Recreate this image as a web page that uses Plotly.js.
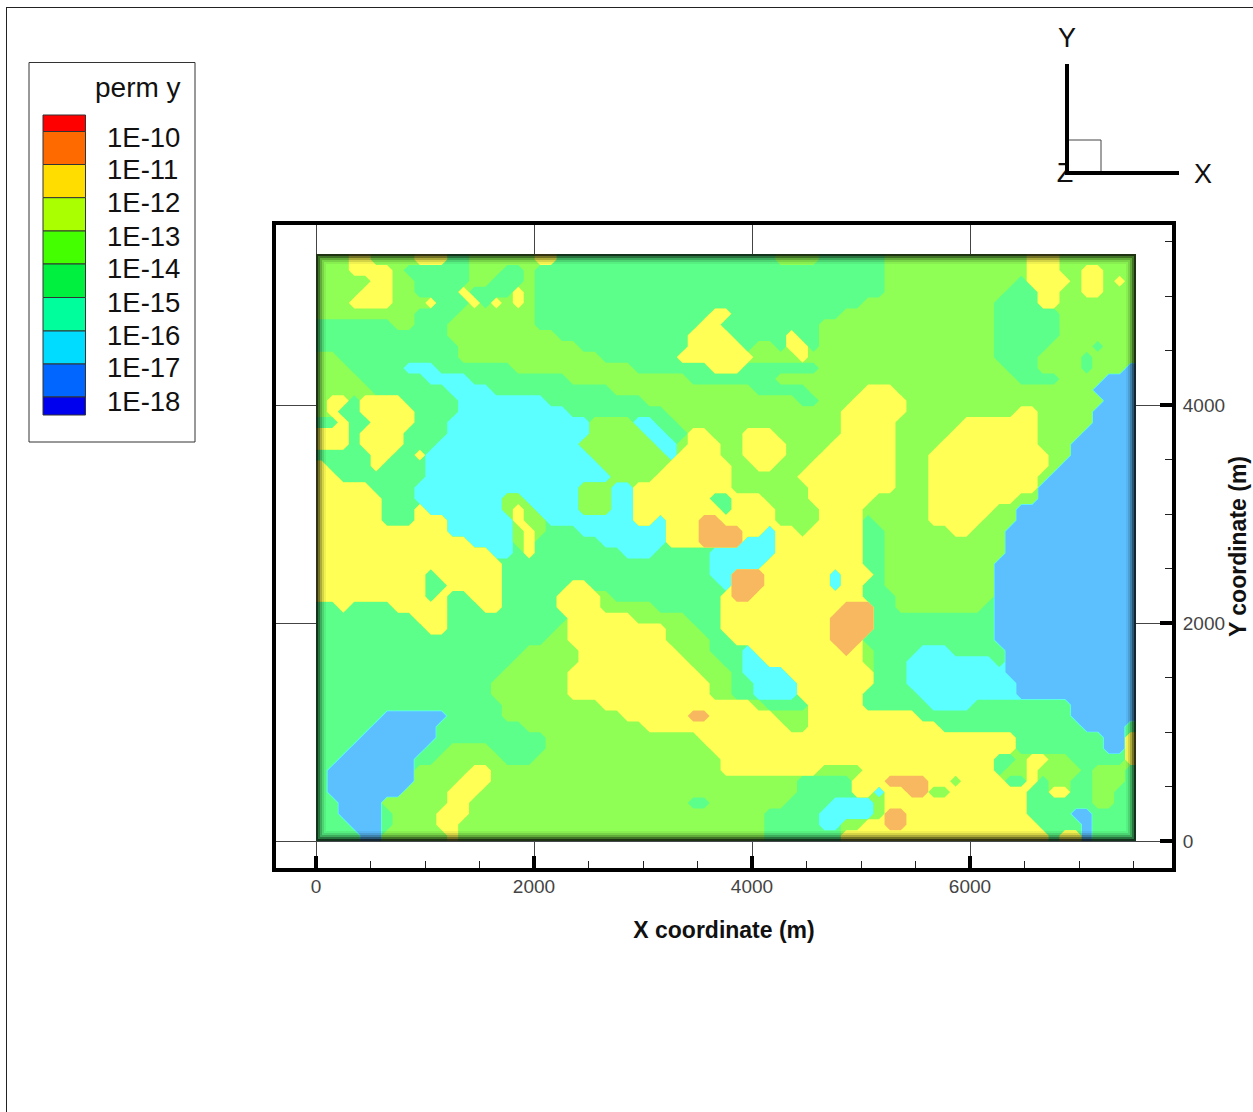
<!DOCTYPE html>
<html><head><meta charset="utf-8">
<script src="https://cdn.plot.ly/plotly-3.0.1.min.js"></script>
<style>html,body{margin:0;padding:0;background:#fff}#p{width:1253px;height:1112px}</style>
</head><body><div id="p"></div>
<script>
// Permeability class map, one string per 100 m row (north to south).
// Each token is a class letter and the column at which that run ends.
var permRows = [
"G3 Y5 G9 Y12 S14 G20 Y22 S42 G46 S52 G65 Y68 G75",
"G3 Y7 G8 S14 G17 S19 G20 S52 G65 Y68 G70 Y72 G75",
"G5 Y7 G9 S14 G16 S19 G20 S52 G64 S65 Y69 G70 Y72 G73 Y74 G75",
"G4 Y7 G9 S13 Y14 S18 Y19 G20 S52 G63 S66 Y68 G70 Y72 G75",
"G3 Y7 G10 Y11 S14 Y15 S16 Y17 G18 Y19 G20 S50 G62 S66 Y68 G75",
"G9 S13 G20 S36 Y38 S48 G62 S68 G75",
"S7 G9 S12 G20 S35 Y37 S46 G62 S68 G75",
"S12 G22 S34 Y38 S43 Y44 S46 G62 S68 G75",
"S13 G24 S34 Y39 S40 G42 S43 Y45 S46 G62 S67 G71 S72 G75",
"G2 S13 G26 S33 Y40 G44 Y45 G62 S66 G70 S71 G75",
"G3 S8 C11 S18 G29 S36 Y39 S46 G63 S66 G70 S71 G74 B75",
"G4 S10 C14 S23 G34 S42 G64 S68 G72 B75",
"G5 S12 C16 S27 G40 S45 G50 Y53 G71 B75",
"G1 Y3 S4 Y8 S13 C21 S30 G44 S46 G49 Y54 G72 B75",
"G1 Y2 S4 Y9 S13 C23 S32 G48 Y54 G64 Y66 G71 B75",
"S2 Y3 S5 Y9 S12 C25 G29 C31 S33 G48 Y53 G59 Y66 G71 B75",
"Y3 S4 Y8 S12 C25 G30 C32 S34 Y36 G39 Y42 G48 Y53 G58 Y66 G70 B75",
"Y3 S4 Y8 S11 C24 G31 C33 G34 Y37 G39 Y43 G47 Y53 G57 Y66 G69 B75",
"S5 Y7 S9 Y10 C25 G32 C33 Y37 G39 Y43 G46 Y53 G56 Y67 G69 B75",
"Y1 S5 Y6 S10 C26 G32 Y38 G40 Y42 G45 Y53 G56 Y67 G68 B75",
"Y2 S10 C27 G31 Y38 G44 Y53 G56 Y66 G67 B75",
"Y5 S9 C24 G27 C29 Y38 G45 Y53 G56 Y66 B75",
"Y6 S9 C17 G19 C24 G27 C29 Y36 S38 Y41 G45 Y51 G56 Y64 G66 B75",
"Y6 S9 Y10 C17 G18 Y19 G20 C24 G27 C29 Y37 S38 Y42 G46 Y50 G56 Y62 G64 B75",
"Y6 S9 Y12 C18 Y19 G21 C29 Y31 C32 Y35 O37 Y42 G46 Y50 S51 G56 Y61 G64 B75",
"Y12 C18 G19 Y20 G21 S24 C32 Y35 O39 Y41 C42 Y44 G45 Y50 S52 G58 Y60 G63 B75",
"Y14 C18 G19 Y20 S26 C32 Y35 O39 C42 Y50 S52 G63 B75",
"Y16 C18 S19 Y20 S28 C31 S36 C42 Y50 S52 G63 B75",
"Y17 S36 C41 Y50 S52 G62 B75",
"Y10 S11 Y17 S36 C38 O41 Y47 C48 Y51 S52 G62 B75",
"Y10 S12 Y17 S23 Y25 S37 C38 O41 Y47 C48 Y50 S52 G62 B75",
"Y10 S11 Y12 S14 Y17 S22 Y26 G27 S37 Y38 O40 Y50 S53 G62 B75",
"S2 Y3 S7 Y12 S15 Y17 S22 Y26 G31 S37 Y48 O51 S53 G61 S62 B75",
"S9 Y12 S23 Y29 G34 S37 Y47 O51 S62 B75",
"S10 Y12 S22 G23 Y32 G35 S37 Y47 O51 S62 B75",
"S21 G23 Y32 G36 S38 Y47 O50 S62 B75",
"S19 G24 Y33 G36 S39 C40 Y48 O49 Y50 G51 S55 C58 S63 B75",
"S18 G24 Y34 G37 S39 C41 Y50 G51 S54 C62 S63 B75",
"S17 G23 Y35 G38 S39 C43 Y51 S54 C63 B75",
"S16 G23 Y36 G38 S40 C44 Y51 S54 C64 B75",
"S16 G23 Y36 G38 S40 C44 Y50 S55 C64 B75",
"S17 G26 Y40 G41 S45 Y50 S56 C60 S69 B75",
"S6 B12 S17 G28 Y34 O36 Y42 G45 Y55 S69 B75",
"S5 B11 S19 G30 Y43 G45 Y57 S70 B74 S75",
"S4 B11 S21 G35 Y64 S72 B74 Y75",
"S3 B10 S12 G16 S21 G36 Y64 S72 B74 Y75",
"S2 B9 S11 G17 S20 G37 Y62 S64 G65 Y67 G69 S74 Y75",
"S1 B9 G14 Y16 G37 Y46 G50 Y62 S63 G65 Y66 G70 S71 G74 S75",
"S1 B9 G13 Y16 G44 S49 Y52 O56 Y58 G59 Y63 S65 Y66 S67 G69 S71 G74 S75",
"S1 B8 G12 Y15 G44 S49 Y51 C52 Y54 O56 G58 Y65 S67 Y69 S71 G73 S75",
"S2 B6 G12 Y14 G34 S36 G43 S47 C51 G52 Y65 S71 G73 S75",
"S2 B6 S7 G11 Y14 G41 S46 C51 G52 O54 Y65 S69 B71 S75",
"S3 B6 S7 G11 Y13 G41 S46 C48 G50 Y52 O54 Y66 S70 B71 S75",
"S4 B6 G12 Y13 G41 S48 Y67 S68 Y70 B71 S75"
];
var classOrder = ["B","C","S","G","Y","O"];
var classColors = ["#5CC0FF","#5CFFFF","#5CFF8A","#90FF55","#FFFF55","#F8B860"];
var legendLabels = ["1E-10","1E-11","1E-12","1E-13","1E-14","1E-15","1E-16","1E-17","1E-18"];
var legendColors = ["#FF0000","#FF6A00","#FFDD00","#AAFF00","#44FF00","#00F040","#00FF9C","#00DCFF","#0066FF","#0000EE"];
var legendEdges = [115,131.5,164.5,197.7,231,264,297.5,331,364,397,415];
var legendLabelY = [137,170,203,236,269,302,335,368,402];
var xMax = 7523, yMax = 5385, nCols = 75;

var grid = permRows.map(function(r){
  var out = [], toks = r.split(" ");
  toks.forEach(function(t){
    var v = classOrder.indexOf(t[0]) + 1, e = +t.slice(1);
    while(out.length < e) out.push(v);
  });
  while(out.length < nCols) out.push(out[out.length-1]);
  return out.slice(0,nCols);
}).reverse();
var nRows = grid.length;
var xs = [0], ys = [0];
for(var i=0;i<nCols;i++) xs.push((i+0.5)*(xMax/nCols));
xs.push(xMax);
for(var j=0;j<nRows;j++) ys.push((j+0.5)*(yMax/nRows));
ys.push(yMax);
var padded = grid.map(function(r){return [r[0]].concat(r,[r[r.length-1]]);});
padded = [padded[0]].concat(padded,[padded[padded.length-1]]);

var W=1253,H=1112,L=276,R=1172,T=225,B=868, scale=0.109, X0=316, Y0=841;

var traces = [{
  type:"heatmap", x:[0,xMax], y:[0,yMax], z:[[1]], zmin:0, zmax:2,
  colorscale:[[0,classColors[0]],[1,classColors[0]]], showscale:false, hoverinfo:"skip", zsmooth:false
}];
for(var k=2;k<=6;k++){
  (function(k){
    traces.push({
      type:"contour", x:xs, y:ys,
      z:padded.map(function(r){return r.map(function(v){return v>=k?1:0;});}),
      autocontour:false,
      contours:{start:0.5,end:0.5,size:1,coloring:"fill",showlines:k===2},
      colorscale:[[0,"rgba(0,0,0,0)"],[1,classColors[k-1]]],
      line:{width:k===2?1.3:0,color:classColors[1],smoothing:0},
      showscale:false, hoverinfo:"skip"
    });
  })(k);
}
var font="Liberation Sans, Arial, sans-serif";
// triad "Z" sits under the triad box, so it is a text mark on a page-sized overlay axis
traces.push({type:"scatter",mode:"text",xaxis:"x2",yaxis:"y2",x:[1065],y:[175],text:["Z"],cliponaxis:false,
  textposition:"middle center",textfont:{family:font,size:27,color:"#111"},hoverinfo:"skip"});

function px(x){return x/W;}
function py(y){return 1-y/H;}
var shapes=[], ann=[];
function line(x0,y0,x1,y1,w,c){shapes.push({type:"line",xref:"paper",yref:"paper",x0:px(x0),x1:px(x1),y0:py(y0),y1:py(y1),line:{color:c,width:w}});}
line(7,7.5,1253,7.5,1,"#222"); line(6.5,7,6.5,1112,1,"#222");
[[1,.8],[3,.55],[5,.33],[7,.17],[9,.06]].forEach(function(s){
  var d=s[0]/scale;
  shapes.push({type:"rect",xref:"x",yref:"y",layer:"above",x0:d,x1:xMax-d,y0:d,y1:yMax-d,
    line:{color:"rgba(0,0,0,"+s[1]+")",width:2},fillcolor:"rgba(0,0,0,0)"});
});
shapes.push({type:"rect",xref:"paper",yref:"paper",x0:px(29),x1:px(195),y0:py(442),y1:py(62.5),line:{color:"#333",width:1},fillcolor:"#fff"});
legendColors.forEach(function(c,i){
  shapes.push({type:"rect",xref:"paper",yref:"paper",x0:px(43),x1:px(85.5),y0:py(legendEdges[i+1]),y1:py(legendEdges[i]),
    line:{color:"#333",width:1},fillcolor:c});
});
function text(t,x,y,size,anchor){ann.push({xref:"paper",yref:"paper",x:px(x),y:py(y),text:t,showarrow:false,xanchor:anchor||"left",yanchor:"middle",
  font:{family:font,size:size,color:"#111"},borderpad:0});}
text("perm y",94,88,28,"left");
legendLabels.forEach(function(t,i){text(t,106,legendLabelY[i],27.5,"left");});
shapes.push({type:"rect",xref:"paper",yref:"paper",x0:px(1067),x1:px(1101),y0:py(173),y1:py(140),line:{color:"#444",width:1},fillcolor:"#fff"});
line(1067,64,1067,175,4,"#000"); line(1065,173,1179,173,4,"#000");
text("Y",1067,38,27,"center"); text("X",1203,174,27,"center");

var layout={
  width:W,height:H,paper_bgcolor:"#fff",plot_bgcolor:"rgba(0,0,0,0)",showlegend:false,
  margin:{l:0,r:0,t:0,b:0,pad:0},
  font:{family:font},
  xaxis:{domain:[L/W,R/W],anchor:"y",range:[(L-X0)/scale,(R-X0)/scale],tick0:0,dtick:2000,ticks:"inside",ticklen:12,tickwidth:4,tickcolor:"#000",
    showline:true,mirror:true,linewidth:4,linecolor:"#000",showgrid:true,gridcolor:"#444",gridwidth:1,zeroline:false,
    minor:{dtick:500,tick0:0,ticks:"inside",ticklen:7,tickwidth:1,tickcolor:"#222",showgrid:false},
    tickfont:{family:font,size:19,color:"#444"},tickformat:"d",ticklabelstandoff:-2,
    title:{text:"<b>X coordinate (m)</b>",font:{family:font,size:23,color:"#111"},standoff:27},automargin:false},
  yaxis:{domain:[1-B/H,1-T/H],anchor:"x",range:[(Y0-B)/scale,(Y0-T)/scale],side:"right",tick0:0,dtick:2000,ticks:"inside",ticklen:12,tickwidth:4,tickcolor:"#000",
    showline:true,mirror:true,linewidth:4,linecolor:"#000",showgrid:true,gridcolor:"#444",gridwidth:1,zeroline:false,
    minor:{dtick:500,tick0:0,ticks:"inside",ticklen:7,tickwidth:1,tickcolor:"#222",showgrid:false},
    tickfont:{family:font,size:19,color:"#444"},tickformat:"d",ticklabelstandoff:3,
    title:{text:"<b>Y coordinate (m)</b>",font:{family:font,size:23,color:"#111"},standoff:6},automargin:false},
  xaxis2:{domain:[0,1],anchor:"y2",range:[0,W],visible:false,fixedrange:true},
  yaxis2:{domain:[0,1],anchor:"x2",range:[H,0],visible:false,fixedrange:true},
  shapes:shapes,annotations:ann
};
Plotly.newPlot("p",traces,layout,{displayModeBar:false,staticPlot:true});
</script></body></html>
